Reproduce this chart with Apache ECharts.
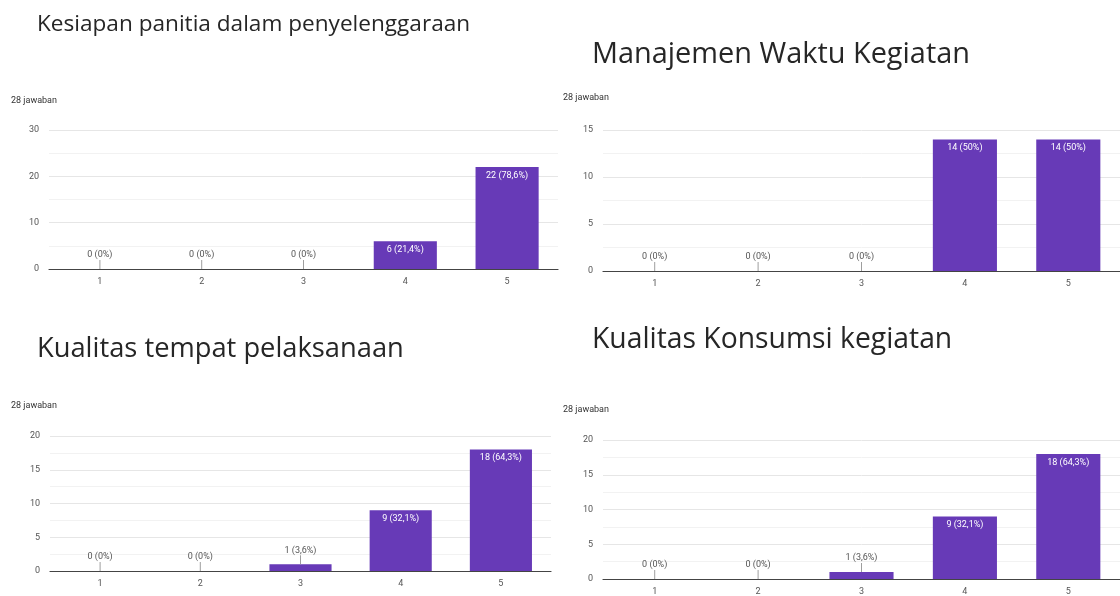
<!DOCTYPE html>
<html>
<head>
<meta charset="utf-8">
<script src="https://cdn.jsdelivr.net/npm/echarts@6/dist/echarts.min.js"></script>
<style>
  html, body { margin: 0; background: #fff; }
  #chart { width: 1120px; height: 596px; }
</style>
</head>
<body>
<div id="chart"></div>
<script>
// data
const categories = ['1', '2', '3', '4', '5']
const totalResponses = 28
const titles = [
  'Kesiapan panitia dalam penyelenggaraan',
  'Manajemen Waktu Kegiatan',
  'Kualitas tempat pelaksanaan',
  'Kualitas Konsumsi kegiatan'
]
const kesiapanPanitia = [0, 0, 0, 6, 22]
const manajemenWaktu = [0, 0, 0, 14, 14]
const kualitasTempat = [0, 0, 1, 9, 18]
const kualitasKonsumsi = [0, 0, 1, 9, 18]
const axisMax = [30, 15, 20, 20]
const axisInterval = [10, 5, 5, 5]

const seriesValues = [kesiapanPanitia, manajemenWaktu, kualitasTempat, kualitasKonsumsi]

// panel layout (pixels): title = [left, centerY, fontSize]
const panels = [
  { grid: { left: 49, top: 130, width: 509, height: 139 }, title: [37, 23, 22.6], count: [11, 101] },
  { grid: { left: 603, top: 130, width: 524, height: 141 }, title: [592, 52, 28.9], count: [563, 98] },
  { grid: { left: 50, top: 436, width: 501, height: 135 }, title: [37, 347, 27.3], count: [11, 406] },
  { grid: { left: 603, top: 440, width: 526, height: 143 }, title: [592, 338, 28.3], count: [563, 410] }
]

const purple = '#673ab7'
const labelFont = 'Roboto, "Liberation Sans", Arial, sans-serif'

const formatPct = (v) => {
  const p = Math.round(v / totalResponses * 1000) / 10
  return (Number.isInteger(p) ? String(p) : p.toFixed(1).replace('.', ',')) + '%'
}

const chart = echarts.init(document.getElementById('chart'))

const grid = panels.map(p => p.grid)
const xAxis = panels.map((p, i) => ({
  type: 'category',
  gridIndex: i,
  data: categories,
  axisLine: { lineStyle: { color: '#444', width: 1.2 } },
  axisTick: { show: false },
  axisLabel: { color: '#555', fontSize: 9, fontFamily: labelFont, margin: 8 }
}))
const yAxis = panels.map((p, i) => ({
  type: 'value',
  gridIndex: i,
  min: 0,
  max: axisMax[i],
  interval: axisInterval[i],
  axisLine: { show: false },
  axisTick: { show: false },
  axisLabel: { color: '#555', fontSize: 9, fontFamily: labelFont, margin: 10 },
  splitLine: { lineStyle: { color: '#e6e6e6' } },
  minorTick: { show: false, splitNumber: 2 },
  minorSplitLine: { show: true, lineStyle: { color: '#f2f2f2' } }
}))

const series = seriesValues.map((values, i) => ({
  type: 'bar',
  xAxisIndex: i,
  yAxisIndex: i,
  barWidth: '62%',
  itemStyle: { color: purple },
  label: { show: true, fontSize: 9, fontFamily: labelFont },
  data: values.map(v => {
    const text = v + ' (' + formatPct(v) + ')'
    if (v / axisMax[i] >= 0.15) {
      return { value: v, label: { position: 'insideTop', distance: 4, color: '#fff', formatter: text } }
    }
    // small values: label above with a short leader line
    return {
      value: v,
      label: {
        position: 'top',
        distance: 0,
        formatter: '{t|' + text + '}\n{l| }',
        rich: {
          t: { color: '#555', fontSize: 9, fontFamily: labelFont, lineHeight: 10 },
          l: { width: 1, height: 9, lineHeight: 9, backgroundColor: '#9e9e9e', fontSize: 1 }
        }
      }
    }
  })
}))

const graphic = []
panels.forEach((p, i) => {
  graphic.push({
    type: 'text',
    left: p.title[0],
    top: p.title[1] - p.title[2] * 0.42,
    style: {
      text: titles[i],
      fill: '#262626',
      font: p.title[2] + 'px "Open Sans", "Noto Sans", sans-serif'
    }
  })
  graphic.push({
    type: 'text',
    left: p.count[0],
    top: p.count[1] - 5,
    style: {
      text: totalResponses + ' jawaban',
      fill: '#333',
      font: '9px ' + labelFont
    }
  })
})

chart.setOption({
  animation: false,
  grid,
  xAxis,
  yAxis,
  series,
  graphic
})
</script>
</body>
</html>
